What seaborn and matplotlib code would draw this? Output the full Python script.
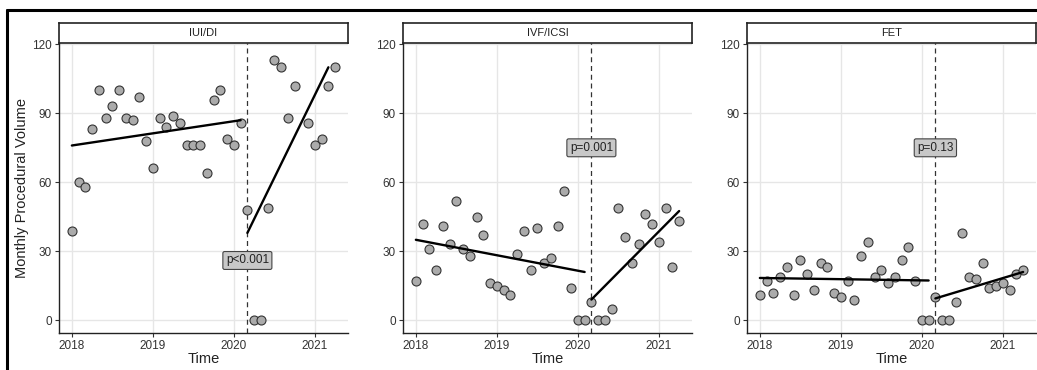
import numpy as np
import pandas as pd
import matplotlib
matplotlib.use("Agg")
import matplotlib.pyplot as plt
from matplotlib.lines import Line2D
import seaborn as sns

# ---- data (monthly, Jan 2018 .. Apr 2021) ----
months = pd.date_range("2018-01-01", "2021-04-01", freq="MS")
iui_vals = [39, 60, 58, 83, 100, 88, 93, 100, 88, 87, 97, 78,
            66, 88, 84, 89, 86, 76, 76, 76, 64, 96, 100, 79,
            76, 86, 48, 0, 0, 49, 113, 110, 88, 102, np.nan, 86,
            76, 79, 102, 110]
ivf_vals = [17, 42, 31, 22, 41, 33, 52, 31, 28, 45, 37, 16,
            15, 13, 11, 29, 39, 22, 40, 25, 27, 41, 56, 14,
            0, 0, 8, 0, 0, 5, 49, 36, 25, 33, 46, 42,
            34, 49, 23, 43]
fet_vals = [11, 17, 12, 19, 23, 11, 26, 20, 13, 25, 23, 12,
            10, 17, 9, 28, 34, 19, 22, 16, 19, 26, 32, 17,
            0, 0, 10, 0, 0, 8, 38, 19, 18, 25, 14, 15,
            16, 13, 20, 22]

panel_titles = ["IUI/DI", "IVF/ICSI", "FET"]
p_labels = ["p<0.001", "p=0.001", "p=0.13"]
p_label_y = [26, 75, 75]

# fitted segment endpoints
pre_x = ["2018-01-01", "2020-02-01"]
post_x_end = ["2021-03-01", "2021-04-01", "2021-04-01"]
post_x_start = "2020-03-01"
pre_fit = [[76, 87], [35, 21], [18.4, 17.3]]
post_fit = [[38, 110], [9, 47.5], [9.5, 21]]
interruption = "2020-03-01"

y_ticks = [0, 30, 60, 90, 120]
x_ticks = [2018, 2019, 2020, 2021]


def dec_year(d):
    d = pd.Timestamp(d)
    return d.year + (d.month - 1) / 12.0


xdec = np.array([dec_year(m) for m in months])

sns.set_theme(style="white")
plt.rcParams["font.family"] = ["Liberation Sans", "DejaVu Sans"]

W, H = 1037, 370
fig = plt.figure(figsize=(W / 100, H / 100), dpi=100)

lefts = [58.7, 402.7, 746.7]
pw = 289.6
top_px, bot_px = 42.7, 332.7
strip_top = 22.7

series = [iui_vals, ivf_vals, fet_vals]
for i in range(3):
    ax = fig.add_axes([lefts[i] / W, 1 - bot_px / H, pw / W, (bot_px - top_px) / H])
    df = pd.DataFrame({"Time": xdec, "Volume": series[i]}).dropna()
    ax.set_xlim(2017.8375, 2021.4125)
    ax.set_ylim(-5.4, 120.7)
    ax.set_xticks(x_ticks)
    ax.set_yticks(y_ticks)
    ax.grid(True, color="#e6e6e6", linewidth=1.0)
    ax.set_axisbelow(True)
    for s in ["top", "right"]:
        ax.spines[s].set_visible(False)
    for s in ["left", "bottom"]:
        ax.spines[s].set_color("#222222")
        ax.spines[s].set_linewidth(1.0)
    ax.tick_params(axis="both", which="major", length=3, width=0.8, color="#333333",
                   labelsize=8.5, labelcolor="#333333", pad=2, bottom=True, left=True)
    ax.axvline(dec_year(interruption), color="#333333", linestyle=(0, (4, 3)), linewidth=0.9, zorder=1)
    sns.scatterplot(data=df, x="Time", y="Volume", ax=ax, s=42, color="#ababab",
                    edgecolor="#333333", linewidth=0.8, zorder=3)
    pre_df = pd.DataFrame({"x": [dec_year(v) for v in pre_x], "y": pre_fit[i]})
    post_df = pd.DataFrame({"x": [dec_year(post_x_start), dec_year(post_x_end[i])], "y": post_fit[i]})
    sns.lineplot(data=pre_df, x="x", y="y", ax=ax, color="black", linewidth=1.7, zorder=4)
    sns.lineplot(data=post_df, x="x", y="y", ax=ax, color="black", linewidth=1.7, zorder=4)
    ax.text(dec_year(interruption), p_label_y[i], p_labels[i], ha="center", va="center",
            fontsize=8.5, color="#222222", zorder=5,
            bbox=dict(boxstyle="round,pad=0.25,rounding_size=0.15", fc="#c8c8c8", ec="#444444", lw=0.8))
    ax.set_xlabel("Time", fontsize=10.5, color="#222222", labelpad=0)
    if i == 0:
        ax.set_ylabel("Monthly Procedural Volume", fontsize=10.5, color="#222222", labelpad=2)
    else:
        ax.set_ylabel("")
    # strip
    sax = fig.add_axes([lefts[i] / W, 1 - top_px / H, pw / W, (top_px - strip_top) / H])
    sax.set_xticks([])
    sax.set_yticks([])
    sax.set_facecolor("white")
    for s in sax.spines.values():
        s.set_color("#222222")
        s.set_linewidth(1.2)
    sax.text(0.5, 0.5, panel_titles[i], ha="center", va="center", fontsize=8, color="#222222",
             transform=sax.transAxes)

# outer frame (top and left edges visible in the reference crop)
fig.add_artist(Line2D([7 / W, 1.0], [1 - 10 / H, 1 - 10 / H], transform=fig.transFigure,
                      color="black", linewidth=2.2))
fig.add_artist(Line2D([7 / W, 7 / W], [0.0, 1 - 10 / H], transform=fig.transFigure,
                      color="black", linewidth=2.2))

fig.savefig("out.png", dpi=100, facecolor="white")
